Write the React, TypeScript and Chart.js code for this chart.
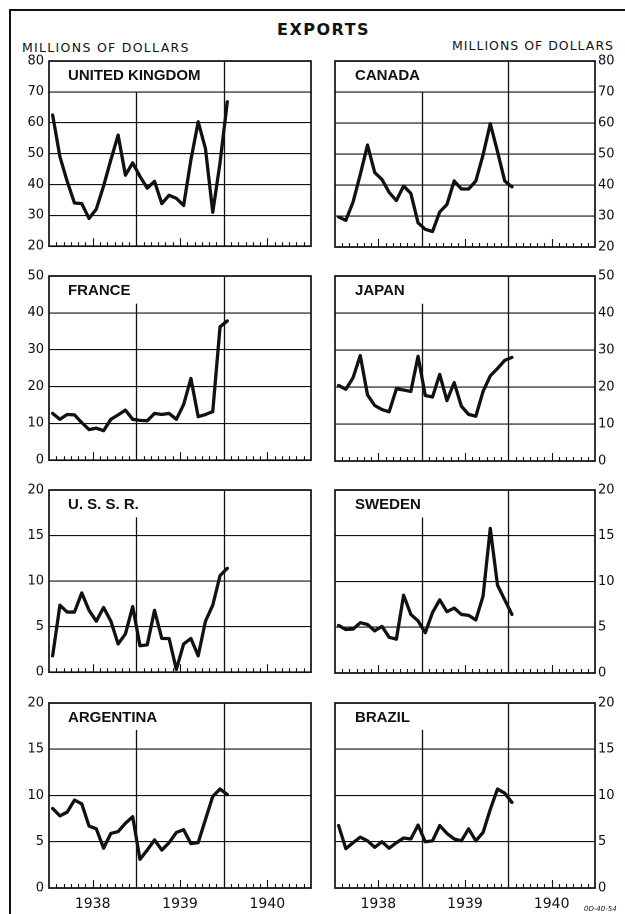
import React, { useEffect, useRef } from "react";
import { Chart, registerables } from "chart.js";
Chart.register(...registerables);

// ---------- DATA ----------
const months = [
  "Jan 1938", "Feb 1938", "Mar 1938", "Apr 1938", "May 1938", "Jun 1938",
  "Jul 1938", "Aug 1938", "Sep 1938", "Oct 1938", "Nov 1938", "Dec 1938",
  "Jan 1939", "Feb 1939", "Mar 1939", "Apr 1939", "May 1939", "Jun 1939",
  "Jul 1939", "Aug 1939", "Sep 1939", "Oct 1939", "Nov 1939", "Dec 1939",
  "Jan 1940",
];
const years = ["1938", "1939", "1940"];

const ukValues = [62.5, 49, 41, 34, 33.8, 29, 32, 39.5, 48, 56, 43, 47, 42.6, 38.8, 41, 33.8, 36.5, 35.5, 33.2, 48, 60.3, 51.6, 31, 47, 66.8];
const canadaValues = [29.7, 28.6, 34.5, 43.4, 52.9, 44, 41.8, 37.6, 35, 39.7, 37.3, 27.8, 25.7, 25, 31.3, 33.7, 41.3, 38.7, 38.7, 41.3, 49.7, 59.8, 50.8, 41.3, 39.4];
const franceValues = [12.7, 11.1, 12.4, 12.3, 10.2, 8.3, 8.7, 8, 11.1, 12.3, 13.6, 11.1, 10.8, 10.7, 12.7, 12.4, 12.7, 11.1, 15.1, 22.2, 11.8, 12.4, 13.2, 36.2, 37.8];
const japanValues = [20.4, 19.4, 22.5, 28.5, 17.9, 15, 13.9, 13.3, 19.5, 19.2, 18.8, 28.3, 17.7, 17.3, 23.4, 16.3, 21.2, 14.8, 12.6, 12.1, 18.8, 23, 25, 27.2, 28];
const ussrValues = [1.8, 7.35, 6.6, 6.6, 8.7, 6.8, 5.6, 7.1, 5.6, 3.1, 4.2, 7.2, 2.9, 3, 6.8, 3.7, 3.7, 0.3, 3.1, 3.7, 1.8, 5.6, 7.35, 10.6, 11.4];
const swedenValues = [5.2, 4.75, 4.8, 5.5, 5.3, 4.6, 5.1, 3.9, 3.7, 8.5, 6.4, 5.7, 4.4, 6.6, 8, 6.7, 7.1, 6.4, 6.3, 5.8, 8.4, 15.8, 9.6, 8, 6.4];
const argentinaValues = [8.6, 7.8, 8.2, 9.5, 9.1, 6.7, 6.4, 4.3, 5.9, 6.1, 7, 7.7, 3.1, 4.1, 5.2, 4.1, 4.9, 6, 6.3, 4.8, 4.9, 7.4, 9.9, 10.7, 10.1];
const brazilValues = [6.75, 4.25, 4.9, 5.5, 5.1, 4.4, 5, 4.3, 4.9, 5.4, 5.3, 6.8, 5, 5.1, 6.75, 5.9, 5.3, 5.1, 6.4, 5.1, 6, 8.5, 10.7, 10.25, 9.25];

const ukTicks = [20, 30, 40, 50, 60, 70, 80];
const fiftyTicks = [0, 10, 20, 30, 40, 50];
const twentyTicks = [0, 5, 10, 15, 20];

// ---------- LAYOUT ----------
const ROW_TOP = [61, 276, 490, 703];
const ROW_BOTTOM = [247, 461, 673, 888];
const MONTHS_ON_AXIS = years.length * 12;

type Panel = {
  name: string;
  values: number[];
  ticks: number[];
  side: "left" | "right";
  row: number;
  splitTop: number; // value where the 1939 divider begins
};

const panels: Panel[] = [
  { name: "UNITED KINGDOM", values: ukValues, ticks: ukTicks, side: "left", row: 0, splitTop: 70 },
  { name: "CANADA", values: canadaValues, ticks: ukTicks, side: "right", row: 0, splitTop: 70 },
  { name: "FRANCE", values: franceValues, ticks: fiftyTicks, side: "left", row: 1, splitTop: 42.5 },
  { name: "JAPAN", values: japanValues, ticks: fiftyTicks, side: "right", row: 1, splitTop: 42.5 },
  { name: "U. S. S. R.", values: ussrValues, ticks: twentyTicks, side: "left", row: 2, splitTop: 17 },
  { name: "SWEDEN", values: swedenValues, ticks: twentyTicks, side: "right", row: 2, splitTop: 17 },
  { name: "ARGENTINA", values: argentinaValues, ticks: twentyTicks, side: "left", row: 3, splitTop: 17.1 },
  { name: "BRAZIL", values: brazilValues, ticks: twentyTicks, side: "right", row: 3, splitTop: 17.1 },
];

const INK = "#111";
const PAD_TOP = 14;

function PanelChart({ panel }: { panel: Panel }) {
  const ref = useRef<HTMLCanvasElement | null>(null);
  const isLeft = panel.side === "left";
  const isBottom = panel.row === ROW_TOP.length - 1;
  const plotH = ROW_BOTTOM[panel.row] - ROW_TOP[panel.row];
  const xAxisH = isBottom ? 22 : 0;
  const padBottom = isBottom ? 2 : 12;
  const width = isLeft ? 325 : 300;
  const height = PAD_TOP + plotH + xAxisH + padBottom;
  const left = isLeft ? 0 : 325;
  const top = ROW_TOP[panel.row] - PAD_TOP;

  useEffect(() => {
    if (!ref.current) return;
    const decor = {
      id: "decor",
      beforeDatasetsDraw(chart: any) {
        const { ctx, chartArea, scales } = chart;
        const xs = scales.x;
        const ys = scales.y;
        ctx.save();
        ctx.strokeStyle = INK;
        // year dividers
        ctx.lineWidth = 1.3;
        const x1 = Math.round(xs.getPixelForValue(12)) + 0.5;
        ctx.beginPath();
        ctx.moveTo(x1, ys.getPixelForValue(panel.splitTop));
        ctx.lineTo(x1, chartArea.bottom);
        ctx.stroke();
        const x2 = Math.round(xs.getPixelForValue(24)) + 0.5;
        ctx.beginPath();
        ctx.moveTo(x2, chartArea.top);
        ctx.lineTo(x2, chartArea.bottom);
        ctx.stroke();
        // month ticks pointing up from the base
        ctx.lineWidth = 1.1;
        for (let m = 1; m < MONTHS_ON_AXIS; m++) {
          if (m % 12 === 0) continue;
          const len = m % 12 === 6 ? 8 : 4;
          const x = Math.round(xs.getPixelForValue(m)) + 0.5;
          ctx.beginPath();
          ctx.moveTo(x, chartArea.bottom);
          ctx.lineTo(x, chartArea.bottom - len);
          ctx.stroke();
        }
        // frame
        ctx.lineWidth = 1.7;
        ctx.strokeRect(chartArea.left, chartArea.top, chartArea.right - chartArea.left, chartArea.bottom - chartArea.top);
        // panel name
        ctx.fillStyle = INK;
        ctx.font = "bold 15px 'Liberation Sans', Arial, sans-serif";
        ctx.textBaseline = "middle";
        ctx.textAlign = "left";
        ctx.fillText(panel.name, chartArea.left + (isLeft ? 19 : 20), chartArea.top + 15);
        ctx.restore();
      },
    };

    const chart = new Chart(ref.current, {
      type: "line",
      data: {
        datasets: [
          {
            label: panel.name,
            data: panel.values.map((v, i) => ({ x: months.indexOf(months[i]) + 0.5, y: v })),
            borderColor: INK,
            borderWidth: 3.3,
            borderJoinStyle: "round",
            borderCapStyle: "round",
            pointRadius: 0,
            tension: 0,
            fill: false,
          },
        ],
      },
      options: {
        responsive: false,
        animation: false,
        devicePixelRatio: 2,
        layout: {
          padding: { top: PAD_TOP, bottom: padBottom, left: isLeft ? 0 : 10, right: isLeft ? 14 : 0 },
        },
        plugins: { legend: { display: false }, tooltip: { enabled: false }, title: { display: false } },
        scales: {
          x: {
            type: "linear",
            min: 0,
            max: MONTHS_ON_AXIS,
            display: isBottom,
            grid: { display: false },
            border: { display: false },
            afterFit: (s: any) => {
              s.height = xAxisH;
            },
            afterBuildTicks: (s: any) => {
              s.ticks = years.map((_, i) => ({ value: i * 12 + 6 }));
            },
            ticks: {
              autoSkip: false,
              maxRotation: 0,
              padding: 0,
              color: INK,
              font: { family: "'DejaVu Sans', sans-serif", size: 14 },
              callback: (v: any) => years[Math.round((Number(v) - 6) / 12)] ?? "",
            },
          },
          y: {
            type: "linear",
            position: panel.side,
            min: panel.ticks[0],
            max: panel.ticks[panel.ticks.length - 1],
            afterFit: (s: any) => {
              s.width = isLeft ? 49 : 30;
            },
            afterBuildTicks: (s: any) => {
              s.ticks = panel.ticks.map((v) => ({ value: v }));
            },
            grid: { color: INK, lineWidth: 1.1, drawTicks: false },
            border: { display: false },
            ticks: {
              padding: isLeft ? 5 : 3,
              color: INK,
              font: { family: "'DejaVu Sans', sans-serif", size: 13 },
              callback: (v: any) => String(v),
            },
          },
        },
      },
      plugins: [decor],
    } as any);
    return () => chart.destroy();
  }, [panel]);

  return (
    <canvas
      ref={ref}
      width={width}
      height={height}
      style={{ position: "absolute", left, top, width, height }}
    />
  );
}

export default function App() {
  const lettering = "'DejaVu Sans', sans-serif";
  return (
    <div style={{ position: "absolute", left: 0, top: 0, width: 625, height: 914, background: "#fff", overflow: "hidden", color: INK }}>
      {/* page frame */}
      <div style={{ position: "absolute", left: 9, top: 9, width: 2, height: 905, background: INK }} />
      <div style={{ position: "absolute", left: 9, top: 9, width: 616, height: 1.5, background: INK }} />
      <div style={{ position: "absolute", left: 277, top: 20, fontFamily: lettering, fontWeight: "bold", fontSize: 16, lineHeight: "20px", letterSpacing: 1.5 }}>
        EXPORTS
      </div>
      <div style={{ position: "absolute", left: 22, top: 41, fontFamily: lettering, fontSize: 12.5, lineHeight: "14px", letterSpacing: 1.3 }}>
        MILLIONS OF DOLLARS
      </div>
      <div style={{ position: "absolute", left: 452, top: 39, fontFamily: lettering, fontSize: 12.5, lineHeight: "14px", letterSpacing: 1 }}>
        MILLIONS OF DOLLARS
      </div>
      {panels.map((p) => (
        <PanelChart key={p.name} panel={p} />
      ))}
      <div style={{ position: "absolute", left: 584, top: 905, fontFamily: lettering, fontStyle: "italic", fontSize: 7, lineHeight: "8px" }}>
        0D-40-54
      </div>
    </div>
  );
}
